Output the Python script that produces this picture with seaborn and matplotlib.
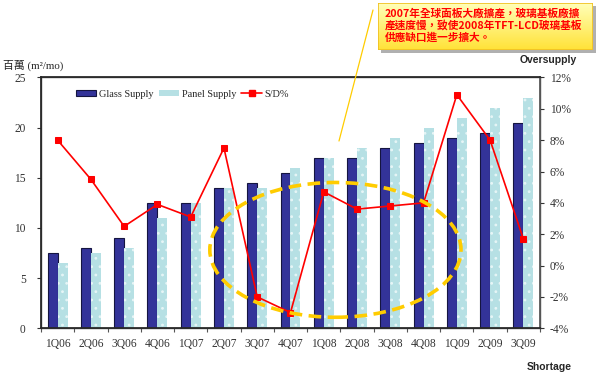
import numpy as np
import pandas as pd
import matplotlib
matplotlib.use("Agg")
import matplotlib.pyplot as plt
import seaborn as sns
from matplotlib.colors import LinearSegmentedColormap
from matplotlib.lines import Line2D
from matplotlib.patches import Ellipse, Patch, Rectangle

quarters = ["1Q06", "2Q06", "3Q06", "4Q06", "1Q07", "2Q07", "3Q07", "4Q07",
            "1Q08", "2Q08", "3Q08", "4Q08", "1Q09", "2Q09", "3Q09"]
glass_supply = [7.5, 8, 9, 12.5, 12.5, 14, 14.5, 15.5, 17, 17, 18, 18.5, 19, 19.5, 20.5]
panel_supply = [6.5, 7.5, 8, 11, 12.5, 14, 14, 16, 17, 18, 19, 20, 21, 22, 23]
sd_ratio = [8.0, 5.5, 2.5, 3.9, 3.1, 7.5, -2.0, -3.0, 4.7, 3.6, 3.8, 4.0, 10.9, 8.0, 1.7]
series_names = ["Glass Supply", "Panel Supply", "S/D%"]
note_lines = ["2007年全球面板大廠擴產，玻璃基板廠擴",
              "產速度慢，致使2008年TFT-LCD玻璃基板",
              "供應缺口進一步擴大。"]

glass_color = "#333399"
panel_color = "#b6e0e4"
line_color = "#ff0000"

df = pd.DataFrame({
    "季度": quarters * 2,
    "供給": glass_supply + panel_supply,
    "系列": [series_names[0]] * len(quarters) + [series_names[1]] * len(quarters),
})

sns.set_theme(style="white")
plt.rcParams["font.family"] = ["Liberation Serif", "Noto Sans CJK TC", "DejaVu Sans"]
plt.rcParams["hatch.linewidth"] = 0.8

fig = plt.figure(figsize=(6, 3.76), dpi=100)
ax = fig.add_axes([0.0683, 0.127, 0.8317, 0.667])

sns.barplot(
    data=df, x="季度", y="供給", hue="系列",
    palette={series_names[0]: glass_color, series_names[1]: panel_color},
    width=0.6, gap=0, saturation=1, legend=False, ax=ax,
)
for bar in ax.containers[0]:
    bar.set_edgecolor("#151540")
    bar.set_linewidth(0.8)
for bar in ax.containers[1]:
    bar.set_hatch("..")
    bar.set_edgecolor("#e6f5f6")
    bar.set_linewidth(0)

ax.set_ylim(0, 25)
ax.set_yticks(np.arange(0, 26, 5))
ax.set_xlim(-0.5, len(quarters) - 0.5)
ax.set_xlabel("")
ax.set_ylabel("")
ax.set_xticks(np.arange(-0.5, len(quarters), 1), minor=True)
ax.tick_params(axis="x", which="major", length=0, pad=7, labelsize=8.3, colors="#333333")
ax.tick_params(axis="x", which="minor", length=3, width=0.8, color="#555555", direction="out", bottom=True)
ax.tick_params(axis="y", length=3, width=0.8, pad=8, labelsize=8.3, left=True, colors="#333333")
for side in ["left", "right", "top", "bottom"]:
    ax.spines[side].set_color("#555555")
    ax.spines[side].set_linewidth(1)

ax2 = ax.twinx()
sns.lineplot(x=np.arange(len(quarters)), y=sd_ratio, color=line_color, marker="s",
             markersize=4.5, markeredgecolor=line_color, linewidth=1.2, ax=ax2)
ax2.set_ylim(-4, 12)
ax2.set_yticks(np.arange(-4, 13, 2))
ax2.set_yticklabels([f"{v}%" for v in range(-4, 13, 2)])
ax2.tick_params(axis="y", length=3, width=0.8, pad=4, labelsize=8.3, right=True, colors="#333333")
ax2.spines["right"].set_color("#555555")

ellipse = Ellipse((8.35, 1.0), width=7.55, height=8.6, fill=False, edgecolor="#ffcc00",
                  linewidth=2.6, linestyle=(0, (3.5, 1.8)), zorder=5)
ax2.add_patch(ellipse)

handles = [
    Patch(facecolor=glass_color, edgecolor="#151540", linewidth=0.8),
    Patch(facecolor=panel_color, edgecolor="none"),
    Line2D([], [], color=line_color, marker="s", markersize=4, linewidth=1.2),
]
ax2.legend(handles, series_names, loc="center left", bbox_to_anchor=(0.07, 0.934),
           ncol=3, frameon=False, fontsize=7.4, handlelength=2.0, handleheight=0.5,
           handletextpad=0.25, columnspacing=0.5, borderpad=0, borderaxespad=0)

fig.text(0.005, 1 - 65 / 376, "百萬 (m²/mo)", fontsize=7.8, va="center", ha="left",
         family=["Liberation Serif", "Noto Sans CJK TC"])
fig.text(548 / 600, 1 - 60 / 376, "Oversupply", fontsize=7.5, fontweight="bold",
         family=["Liberation Sans"], ha="center", va="center")
fig.text(549 / 600, 1 - 367 / 376, "Shortage", fontsize=7.5, fontweight="bold",
         family=["Liberation Sans"], ha="center", va="center")

# callout box
bx0, bx1 = 378 / 600, 593 / 600
by0, by1 = 1 - 50 / 376, 1 - 3 / 376
shadow = Rectangle((bx0 + 3 / 600, by0 - 3 / 376), bx1 - bx0, by1 - by0,
                   transform=fig.transFigure, facecolor="#b0b0b0", edgecolor="none", zorder=-1)
fig.patches.append(shadow)
ax_box = fig.add_axes([bx0, by0, bx1 - bx0, by1 - by0])
yellow_cmap = LinearSegmentedColormap.from_list("note", ["#ffe238", "#ffffb8"])
ax_box.imshow(np.linspace(0, 1, 60).reshape(-1, 1)[::-1], cmap=yellow_cmap,
              aspect="auto", extent=[0, 1, 0, 1])
ax_box.add_patch(Rectangle((0, 0), 1, 1, transform=ax_box.transAxes, fill=False,
                           edgecolor="#f0c020", linewidth=1.2))
ax_box.set_axis_off()
for i, line in enumerate(note_lines):
    fig.text(385 / 600, 1 - (13 + 12 * i) / 376, line, color="#ff0000", fontsize=7.7,
             fontweight="bold", family=["Noto Sans CJK TC", "DejaVu Sans"],
             ha="left", va="center", zorder=4)

fig.lines.append(Line2D([373 / 600, 339 / 600], [1 - 10 / 376, 1 - 141 / 376],
                        transform=fig.transFigure, color="#ffcc00", linewidth=0.9))

fig.savefig("out.png", dpi=100)
